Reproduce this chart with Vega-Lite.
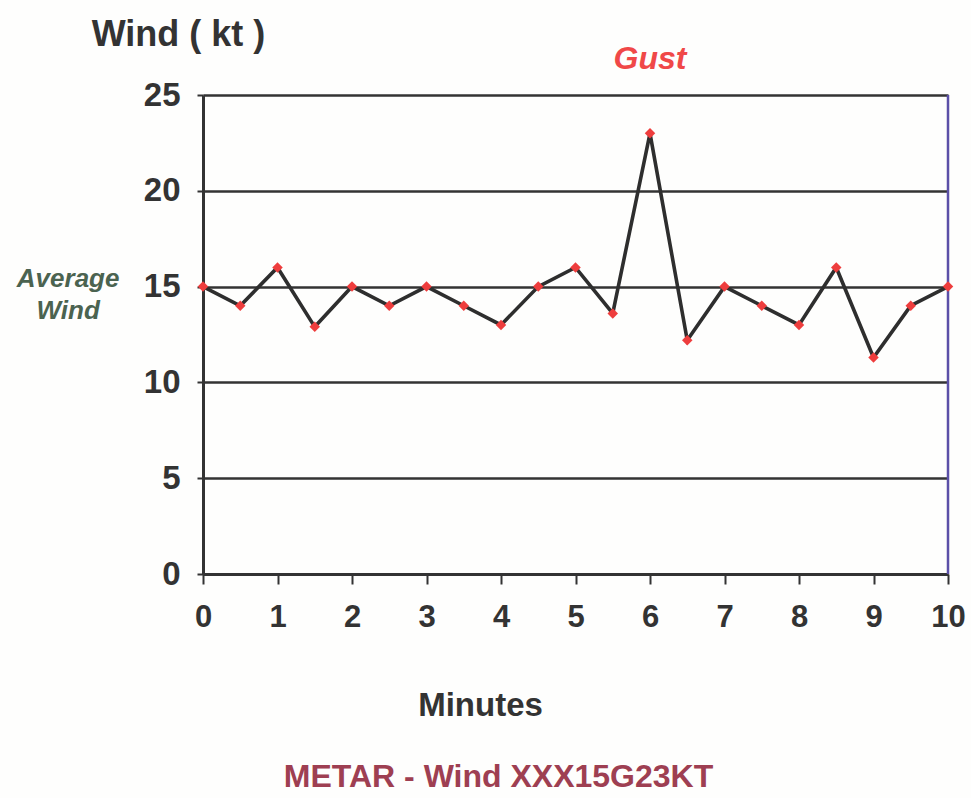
{
  "$schema": "https://vega.github.io/schema/vega-lite/v6.json",
  "autosize": {"type": "none"},
  "width": 745,
  "height": 479,
  "padding": {"left": 203, "top": 95, "right": 23, "bottom": 224},
  "background": "#fefefd",
  "config": {
    "view": {"stroke": null},
    "font": "Liberation Sans"
  },
  "title": {
    "text": "METAR - Wind XXX15G23KT",
    "orient": "bottom",
    "anchor": "middle",
    "dx": -77,
    "offset": 40,
    "font": "Liberation Sans",
    "fontSize": 32,
    "fontWeight": "bold",
    "color": "#9e3f52"
  },
  "data": {
    "values": [
      {"minute": 0, "wind": 15},
      {"minute": 0.5, "wind": 14},
      {"minute": 1, "wind": 16},
      {"minute": 1.5, "wind": 12.9},
      {"minute": 2, "wind": 15},
      {"minute": 2.5, "wind": 14},
      {"minute": 3, "wind": 15},
      {"minute": 3.5, "wind": 14},
      {"minute": 4, "wind": 13},
      {"minute": 4.5, "wind": 15},
      {"minute": 5, "wind": 16},
      {"minute": 5.5, "wind": 13.6},
      {"minute": 6, "wind": 23},
      {"minute": 6.5, "wind": 12.2},
      {"minute": 7, "wind": 15},
      {"minute": 7.5, "wind": 14},
      {"minute": 8, "wind": 13},
      {"minute": 8.5, "wind": 16},
      {"minute": 9, "wind": 11.3},
      {"minute": 9.5, "wind": 14},
      {"minute": 10, "wind": 15}
    ]
  },
  "layer": [
    {
      "data": {"values": [{}]},
      "mark": {"type": "rule", "color": "#5b50a8", "strokeWidth": 2.5},
      "encoding": {
        "x": {"datum": 10, "type": "quantitative"}
      }
    },
    {
      "mark": {"type": "line", "color": "#2e2e2e", "strokeWidth": 3.6},
      "encoding": {
        "x": {
          "field": "minute",
          "type": "quantitative",
          "scale": {"domain": [0, 10], "nice": false},
          "axis": {
            "values": [0, 0.5, 1, 1.5, 2, 2.5, 3, 3.5, 4, 4.5, 5, 5.5, 6, 6.5, 7, 7.5, 8, 8.5, 9, 9.5, 10],
            "labelExpr": "datum.value % 1 === 0 ? format(datum.value, 'd') : ''",
            "grid": false,
            "domainColor": "#333333",
            "domainWidth": 3,
            "tickColor": "#333333",
            "tickWidth": 2,
            "tickSize": 10,
            "labelFont": "Liberation Sans",
            "labelFontSize": 31,
            "labelFontWeight": "bold",
            "labelColor": "#333333",
            "labelPadding": 18,
            "labelFlush": false,
            "labelOverlap": false,
            "title": "Minutes",
            "titleFont": "Liberation Sans",
            "titleFontSize": 33,
            "titleFontWeight": "bold",
            "titleColor": "#333333",
            "titleX": 277,
            "titleY": 131,
            "titleAlign": "center",
            "titleBaseline": "middle"
          }
        },
        "y": {
          "field": "wind",
          "type": "quantitative",
          "scale": {"domain": [0, 25], "nice": false},
          "axis": {
            "values": [0, 5, 10, 15, 20, 25],
            "grid": true,
            "gridColor": "#333333",
            "gridWidth": 2.5,
            "gridOpacity": 1,
            "domainColor": "#333333",
            "domainWidth": 3,
            "tickColor": "#333333",
            "tickWidth": 2,
            "tickSize": 6,
            "labelFont": "Liberation Sans",
            "labelFontSize": 33,
            "labelFontWeight": "bold",
            "labelColor": "#333333",
            "labelPadding": 17,
            "labelFlush": false,
            "title": "Wind ( kt )",
            "titleFont": "Liberation Sans",
            "titleFontSize": 36,
            "titleFontWeight": "bold",
            "titleColor": "#333333",
            "titleAngle": 0,
            "titleX": -25,
            "titleY": -61,
            "titleAlign": "center",
            "titleBaseline": "middle"
          }
        }
      }
    },
    {
      "mark": {"type": "point", "shape": "diamond", "filled": true, "color": "#ee3d3d", "size": 110, "opacity": 1},
      "encoding": {
        "x": {"field": "minute", "type": "quantitative"},
        "y": {"field": "wind", "type": "quantitative"}
      }
    },
    {
      "data": {"values": [{}]},
      "mark": {
        "type": "text",
        "text": "Gust",
        "font": "Liberation Sans",
        "fontSize": 32,
        "fontWeight": "bold",
        "fontStyle": "italic",
        "color": "#f04848",
        "align": "center",
        "baseline": "middle",
        "clip": false
      },
      "encoding": {
        "x": {"datum": 6, "type": "quantitative"},
        "y": {"datum": 26.9, "type": "quantitative"}
      }
    },
    {
      "data": {"values": [{}]},
      "mark": {
        "type": "text",
        "text": ["Average", "Wind"],
        "font": "Liberation Sans",
        "fontSize": 26,
        "fontWeight": "bold",
        "fontStyle": "italic",
        "color": "#4b6350",
        "align": "center",
        "baseline": "middle",
        "lineHeight": 32,
        "clip": false
      },
      "encoding": {
        "x": {"datum": -1.81, "type": "quantitative"},
        "y": {"datum": 15.4, "type": "quantitative"}
      }
    }
  ]
}
